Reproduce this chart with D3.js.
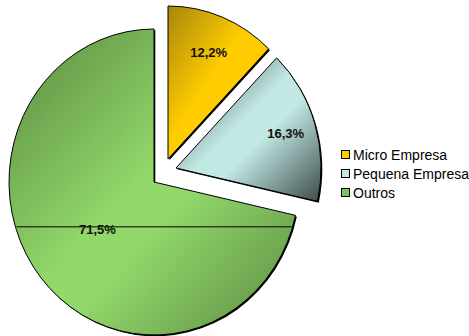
<!DOCTYPE html>
<html>
<head>
<meta charset="utf-8">
<script src="https://cdn.jsdelivr.net/npm/d3@7"></script>
<style>
  html, body { margin: 0; padding: 0; background: #ffffff; }
  svg { display: block; }
</style>
</head>
<body>
<svg id="chart" width="469" height="336"></svg>
<script>
// Chart data
const categories = ["Micro Empresa", "Pequena Empresa", "Outros"];
const shares = [12.2, 16.3, 71.5];
const valueLabels = ["12,2%", "16,3%", "71,5%"];

// Styling per slice: bright tone, dark tone of the diagonal gradient
const lightColors = ["#ffcc00", "#c2e8e4", "#92d86a"];
const darkColors = ["#a8860c", "#3c4a4a", "#5a8a42"];
const legendColors = ["#ffcc00", "#c2e8e4", "#78c658"];

const svg = d3.select("#chart");

// Pie geometry (slightly taller than wide)
const cx = 154, cy = 182, rx = 145, ry = 153;
// Exploded slice offsets
const explode = [[14, -23], [22, -14], [0, 0]];
const labelFrac = [0.75, 0.79, 0.5];

const pie = d3.pie().sort(null).value(d => d)(shares);

// Gradients: dark at top-left, bright in the middle, dark at bottom-right of each slice box
const defs = svg.append("defs");
categories.forEach((c, i) => {
  const g = defs.append("linearGradient")
    .attr("id", "grad" + i)
    .attr("x1", 0).attr("y1", 0).attr("x2", 1).attr("y2", 1);
  g.append("stop").attr("offset", "0%").attr("stop-color", darkColors[i]);
  g.append("stop").attr("offset", i === 2 ? "48%" : "45%").attr("stop-color", lightColors[i]);
  g.append("stop").attr("offset", i === 0 ? "60%" : "58%").attr("stop-color", lightColors[i]);
  g.append("stop").attr("offset", "100%").attr("stop-color", darkColors[i]);
});

// Unit-circle arc scaled into an ellipse
const arcGen = d3.arc().innerRadius(0).outerRadius(1);

const slices = svg.append("g");
pie.forEach((p, i) => {
  const [ox, oy] = explode[i];
  const g = slices.append("g")
    .attr("transform", `translate(${cx + ox},${cy + oy})`);
  const d = arcGen(p);
  // drop shadow
  g.append("path")
    .attr("d", d)
    .attr("transform", `translate(1.3,1.3) scale(${rx},${ry})`)
    .attr("fill", "#000");
  g.append("path")
    .attr("d", d)
    .attr("transform", `scale(${rx},${ry})`)
    .attr("fill", `url(#grad${i})`)
    .attr("stroke", "#000")
    .attr("stroke-width", 1)
    .attr("vector-effect", "non-scaling-stroke");
});

// Value labels
pie.forEach((p, i) => {
  const [ox, oy] = explode[i];
  const a = (p.startAngle + p.endAngle) / 2;
  const f = labelFrac[i];
  const lx = cx + ox + Math.sin(a) * rx * f;
  const ly = cy + oy - Math.cos(a) * ry * f;
  if (i === 2) {
    // leader line spanning the large slice from rim to rim
    const yLine = ly - 3;
    const dy = (yLine - cy) / ry;
    const half = rx * Math.sqrt(1 - dy * dy);
    svg.append("line")
      .attr("x1", cx - half + 1).attr("x2", cx + half - 1)
      .attr("y1", yLine).attr("y2", yLine)
      .attr("stroke", "#000").attr("stroke-width", 1);
  }
  svg.append("text")
    .attr("x", lx).attr("y", ly)
    .attr("text-anchor", "middle")
    .attr("dominant-baseline", "central")
    .attr("font-family", "Liberation Sans, Arial, sans-serif")
    .attr("font-weight", "bold")
    .attr("font-size", 13)
    .attr("fill", "#111")
    .text(valueLabels[i]);
});

// Legend
const legend = svg.append("g").attr("transform", "translate(341,155)");
categories.forEach((c, i) => {
  const row = legend.append("g").attr("transform", `translate(0,${i * 19})`);
  row.append("rect")
    .attr("x", 0.5).attr("y", -4.5)
    .attr("width", 8).attr("height", 8)
    .attr("fill", legendColors[i])
    .attr("stroke", "#000").attr("stroke-width", 1);
  row.append("text")
    .attr("x", 12).attr("y", 0)
    .attr("dominant-baseline", "central")
    .attr("font-family", "Liberation Sans, Arial, sans-serif")
    .attr("font-size", 14)
    .attr("fill", "#000")
    .text(c);
});
</script>
</body>
</html>
